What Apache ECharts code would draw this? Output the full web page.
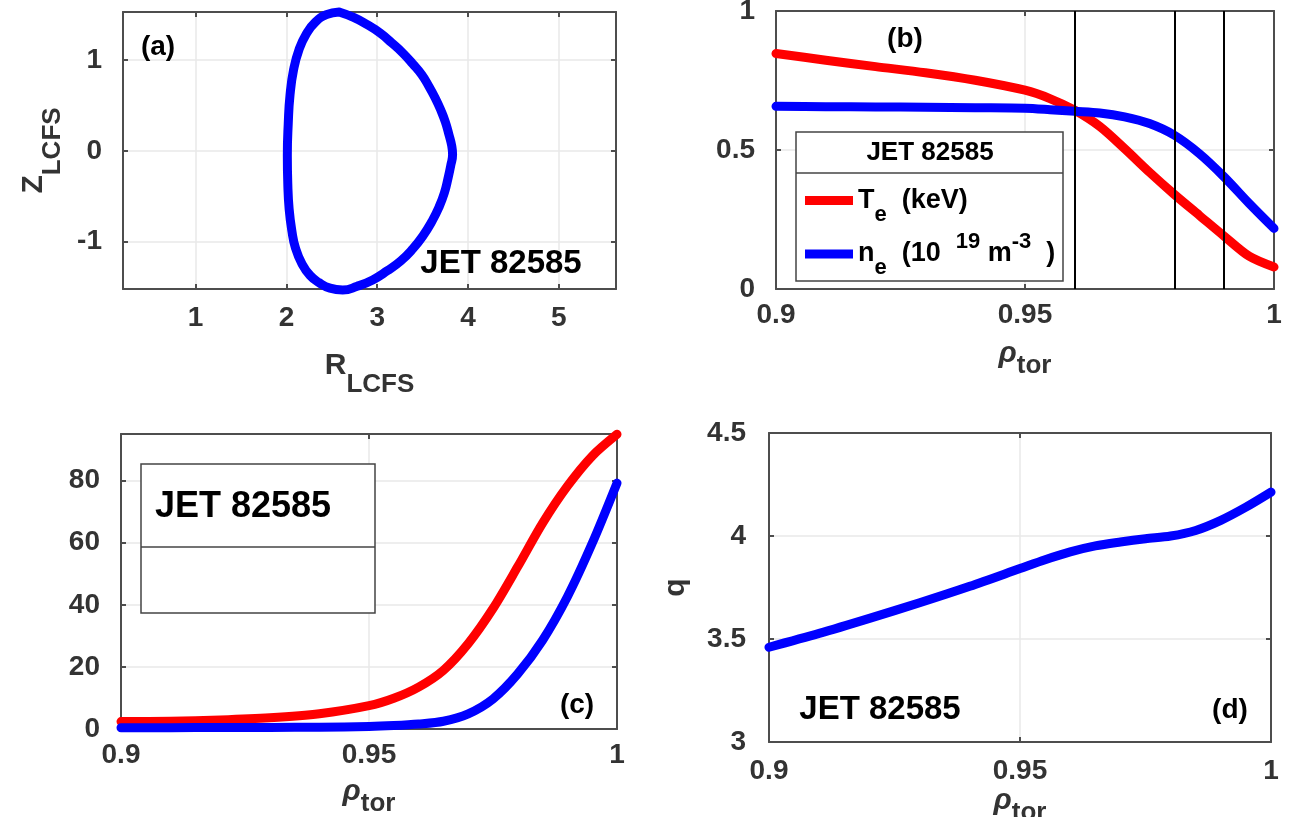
<!DOCTYPE html>
<html>
<head>
<meta charset="utf-8">
<script src="https://cdn.jsdelivr.net/npm/echarts@6.0.0/dist/echarts.min.js"></script>
<style>
  html, body { margin: 0; padding: 0; background: #fff; }
  #main { width: 1289px; height: 817px; }
</style>
</head>
<body>
<div id="main"></div>
<script>
// (a) last closed flux surface, clockwise from the top
const lcfsR = [2.58, 2.74, 2.89, 3.03, 3.16, 3.28, 3.39, 3.49, 3.57, 3.64, 3.70, 3.75, 3.79, 3.82, 3.83,
  3.81, 3.78, 3.74, 3.68, 3.60, 3.50, 3.39, 3.26, 3.11, 2.95, 2.78, 2.62, 2.48, 2.36, 2.26, 2.17,
  2.10, 2.06, 2.03, 2.015, 2.01, 2.02, 2.04, 2.08, 2.14, 2.22, 2.32, 2.44, 2.58]
const lcfsZ = [1.53, 1.47, 1.39, 1.30, 1.19, 1.08, 0.96, 0.84, 0.71, 0.58, 0.45, 0.32, 0.18, 0.06, -0.04,
  -0.16, -0.30, -0.46, -0.62, -0.78, -0.94, -1.08, -1.21, -1.32, -1.42, -1.49, -1.53, -1.51, -1.45, -1.37, -1.24,
  -1.07, -0.88, -0.64, -0.36, -0.05, 0.30, 0.62, 0.90, 1.12, 1.29, 1.42, 1.50, 1.53]

// (b),(c),(d) profiles against rho_tor
const rho = [0.9, 0.91, 0.92, 0.93, 0.94, 0.95, 0.955, 0.96, 0.965, 0.97, 0.975, 0.98, 0.985, 0.99, 0.995, 1.0]
const te = [0.847, 0.823, 0.800, 0.778, 0.751, 0.715, 0.685, 0.643, 0.585, 0.505, 0.420, 0.340, 0.265, 0.190, 0.118, 0.079]
const ne = [0.657, 0.656, 0.655, 0.654, 0.652, 0.650, 0.645, 0.639, 0.633, 0.619, 0.595, 0.553, 0.487, 0.403, 0.308, 0.218]
const vLines = [0.96, 0.98, 0.99]
const redC = [2.4, 2.5, 2.9, 3.6, 4.9, 7.5, 9.9, 13.5, 18.9, 27.5, 38.8, 52.3, 66.3, 78.2, 87.9, 94.9]
const blueC = [0.4, 0.4, 0.5, 0.5, 0.6, 0.8, 1.1, 1.6, 2.5, 4.9, 9.7, 17.8, 28.6, 42.6, 59.8, 79.2]
const qProfile = [3.46, 3.527, 3.60, 3.676, 3.756, 3.842, 3.885, 3.923, 3.952, 3.971, 3.987, 4.0, 4.027, 4.076, 4.14, 4.213]

const FONT = '"Liberation Sans", Arial, sans-serif'
const INK = '#333'
const EDGE = '#4d4d4d'
const GRIDC = '#e8e8e8'

const pairs = (xs, ys) => xs.map((x, i) => [x, ys[i]])

const lcfsRich = {
  b: { fontSize: 30, fontWeight: 'bold', color: INK, fontFamily: FONT },
  s: { fontSize: 26, fontWeight: 'bold', color: INK, fontFamily: FONT, padding: [38, 0, 0, 0] }
}
const rhoRich = {
  r: { fontSize: 30, fontWeight: 'bold', fontStyle: 'italic', color: INK, fontFamily: FONT },
  s: { fontSize: 26, fontWeight: 'bold', color: INK, fontFamily: FONT, padding: [24, 0, 0, 0] }
}

function axis(gi, pos, min, max, more) {
  const main = pos === 'bottom' || pos === 'left'
  const a = {
    type: 'value',
    gridIndex: gi,
    position: pos,
    min: min,
    max: max,
    axisLine: { show: true, onZero: false, lineStyle: { color: EDGE, width: 2 }},
    axisTick: { show: true, inside: true, length: 5, lineStyle: { color: EDGE, width: 2 }},
    axisLabel: {
      show: main,
      color: INK,
      fontFamily: FONT,
      fontWeight: 'bold',
      fontSize: 28,
      margin: pos === 'left' ? 21 : 12
    },
    splitLine: { show: main, lineStyle: { color: GRIDC, width: 1.5 }},
    nameLocation: 'middle'
  }
  return Object.assign(a, more || {})
}

const grids = [
  { left: 123, top: 12, width: 493, height: 277 },
  { left: 776, top: 11, width: 498, height: 278 },
  { left: 121, top: 434, width: 496, height: 295 },
  { left: 769, top: 433, width: 502, height: 309 }
].map(g => Object.assign(g, { containLabel: false, outerBoundsMode: 'none' }))

const rhoName = {
  name: '{r|ρ}{s|tor}',
  nameTextStyle: { rich: rhoRich }
}

const xAxes = [
  axis(0, 'bottom', 0.2, 5.63, { splitNumber: 5, name: '{b|R}{s|LCFS}', nameGap: 45, nameTextStyle: { rich: lcfsRich }}),
  axis(1, 'bottom', 0.9, 1, Object.assign({ interval: 0.05, nameGap: 40 }, rhoName)),
  axis(2, 'bottom', 0.9, 1, Object.assign({ interval: 0.05, nameGap: 38 }, rhoName)),
  axis(3, 'bottom', 0.9, 1, Object.assign({ interval: 0.05, nameGap: 29 }, rhoName)),
  axis(0, 'top', 0.2, 5.63, { splitNumber: 5 }),
  axis(1, 'top', 0.9, 1, { interval: 0.05 }),
  axis(2, 'top', 0.9, 1, { interval: 0.05 }),
  axis(3, 'top', 0.9, 1, { interval: 0.05 })
]
xAxes[0].axisLabel.showMinLabel = false
xAxes[0].axisLabel.showMaxLabel = false
xAxes[0].axisLabel.margin = 15
xAxes[3].axisLabel.margin = 15

const yAxes = [
  axis(0, 'left', -1.52, 1.53, { splitNumber: 3, name: '{b|Z}{s|LCFS}', nameRotate: 90, nameGap: 57, nameTextStyle: { rich: lcfsRich }}),
  axis(1, 'left', 0, 1, { interval: 0.5 }),
  axis(2, 'left', 0, 95, { interval: 20 }),
  axis(3, 'left', 3, 4.5, { interval: 0.5, name: 'q', nameRotate: 90, nameGap: 78,
    nameTextStyle: { fontSize: 30, fontWeight: 'bold', color: INK, fontFamily: FONT }}),
  axis(0, 'right', -1.52, 1.53, { splitNumber: 3 }),
  axis(1, 'right', 0, 1, { interval: 0.5 }),
  axis(2, 'right', 0, 95, { interval: 20 }),
  axis(3, 'right', 3, 4.5, { interval: 0.5 })
]
yAxes[0].axisLabel.showMinLabel = false
yAxes[0].axisLabel.showMaxLabel = false
yAxes[2].axisLabel.showMaxLabel = false
yAxes[3].axisLabel.margin = 23

function curve(name, gi, xs, ys, color, smooth) {
  return {
    name: name,
    type: 'line',
    xAxisIndex: gi,
    yAxisIndex: gi,
    data: pairs(xs, ys),
    smooth: smooth || 0.3,
    showSymbol: false,
    symbol: 'none',
    clip: false,
    color: color,
    z: 3,
    lineStyle: { color: color, width: 9, cap: 'round', join: 'round' }
  }
}

const series = [
  curve('lcfs', 0, lcfsR, lcfsZ, '#0000ff', 0.5),
  {
    type: 'line',
    xAxisIndex: 1,
    yAxisIndex: 1,
    data: [],
    z: 2,
    markLine: {
      silent: true,
      symbol: 'none',
      label: { show: false },
      lineStyle: { color: '#000', width: 2, type: 'solid' },
      data: vLines.map(v => ({ xAxis: v }))
    }
  },
  curve('Te', 1, rho, te, '#ff0000'),
  curve('ne', 1, rho, ne, '#0000ff'),
  curve('c1', 2, rho, redC, '#ff0000'),
  curve('c2', 2, rho, blueC, '#0000ff'),
  curve('q', 3, rho, qProfile, '#0000ff')
]

const legRich = {
  m: { fontSize: 27, fontWeight: 'bold', color: '#000', fontFamily: FONT },
  s: { fontSize: 22, fontWeight: 'bold', color: '#000', fontFamily: FONT, padding: [28, 0, 0, 0] },
  p: { fontSize: 22, fontWeight: 'bold', color: '#000', fontFamily: FONT, padding: [0, 0, 24, 0] }
}
function legendFor(name, top) {
  return {
    data: [name],
    left: 805,
    top: top,
    icon: 'rect',
    itemWidth: 48,
    itemHeight: 9,
    selectedMode: false,
    z: 10,
    padding: 0,
    textStyle: { rich: legRich },
    formatter: n => n === 'Te'
      ? '{m|T}{s|e}{m|  (keV)}'
      : '{m|n}{s|e}{m|  (10  }{p|19}{m| m}{p|-3}{m|  )}'
  }
}

function label(text, x, y, size, align) {
  return {
    type: 'text',
    x: x,
    y: y,
    z: 20,
    style: {
      text: text,
      fill: '#000',
      font: 'bold ' + size + 'px ' + FONT,
      align: align || 'center',
      verticalAlign: 'middle'
    }
  }
}
function box(x, y, w, h, sepY) {
  return [
    { type: 'rect', z: 5, shape: { x: x, y: y, width: w, height: h },
      style: { fill: '#fff', stroke: '#444', lineWidth: 1.5 }},
    { type: 'line', z: 6, shape: { x1: x, y1: sepY, x2: x + w, y2: sepY },
      style: { stroke: '#444', lineWidth: 1.5 }}
  ]
}

const graphics = [].concat(
  box(796, 132, 267, 149, 173),
  box(141, 464, 234, 149, 547),
  [
    label('(a)', 158, 47, 28),
    label('JET 82585', 501, 264, 33),
    label('(b)', 905, 39, 28),
    label('JET 82585', 930, 153, 26),
    label('JET 82585', 155, 507, 36, 'left'),
    label('(c)', 577, 705, 28),
    label('(d)', 1230, 710, 28),
    label('JET 82585', 880, 710, 33)
  ]
)

const chart = echarts.init(document.getElementById('main'))
chart.setOption({
  animation: false,
  backgroundColor: '#fff',
  textStyle: { fontFamily: FONT },
  grid: grids,
  xAxis: xAxes,
  yAxis: yAxes,
  legend: [legendFor('Te', 187), legendFor('ne', 231)],
  series: series,
  graphic: { elements: graphics }
})
</script>
</body>
</html>
